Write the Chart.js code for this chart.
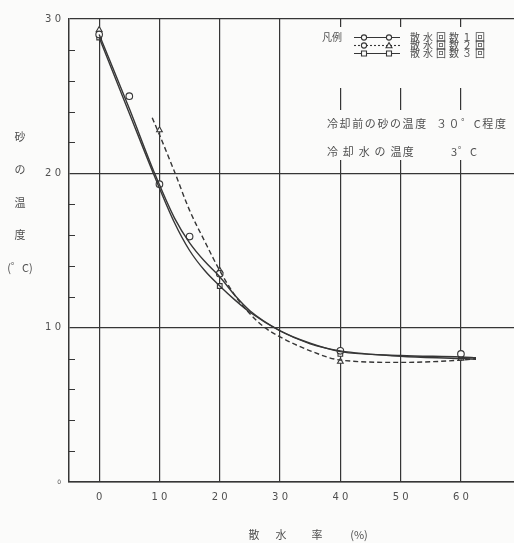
<!DOCTYPE html>
<html><head><meta charset="utf-8">
<script src="https://cdn.jsdelivr.net/npm/chart.js@4/dist/chart.umd.min.js"></script>
<style>html,body{margin:0;padding:0;background:#fbfbfa;}canvas{display:block;}</style>
</head><body>
<canvas id="c" width="514" height="543"></canvas>
<script>
// ---- data ----
const xTickValues = [0, 10, 20, 30, 40, 50, 60];
const xTickLabels = ['0', '1 0', '2 0', '3 0', '4 0', '5 0', '6 0'];
const yTickValues = [0, 2, 4, 6, 8, 10, 12, 14, 16, 18, 20, 22, 24, 26, 28, 30];
const yTickLabels = {0: '0', 10: '1 0', 20: '2 0', 30: '3 0'};

// measured points (markers)
const run1X = [0, 5, 10, 15, 20, 40, 60];
const run1Y = [29.0, 25.0, 19.3, 15.9, 13.5, 8.5, 8.3];
const run2X = [0, 10, 20, 40, 60];
const run2Y = [29.3, 22.8, 13.7, 7.8, 8.0];
const run3X = [0, 20, 40, 60];
const run3Y = [28.8, 12.7, 8.3, 8.2];

// hand-drawn fitted curves
const curve1X = [0, 5, 9.2, 12.5, 15, 17.5, 20, 22.5, 25, 30, 35, 40, 50, 60, 62.5];
const curve1Y = [29.0, 24.2, 20.0, 17.1, 15.5, 14.3, 13.3, 12.1, 11.1, 9.8, 8.95, 8.5, 8.15, 8.0, 7.95];
const curve2X = [8.8, 10, 12.5, 15, 17.5, 20, 22.5, 25, 27.5, 30, 35, 40, 50, 60, 62.5];
const curve2Y = [23.6, 22.5, 20.1, 17.6, 15.6, 13.7, 12.1, 10.9, 10.0, 9.4, 8.5, 7.9, 7.75, 7.9, 8.0];
const curve3X = [0, 5, 9.2, 12.5, 15, 17.5, 20, 22.5, 25, 30, 35, 40, 50, 60, 62.5];
const curve3Y = [28.8, 23.9, 19.8, 16.8, 15.0, 13.7, 12.7, 11.8, 11.0, 9.8, 9.0, 8.45, 8.2, 8.1, 8.05];

const legendLabels = ['散水回数１回', '散水回数２回', '散水回数３回'];
const noteLine1 = '冷却前の砂の温度  ３０゜C程度';
const noteLine2a = '冷 却 水 の 温度';
const noteLine2b = '3゜C';
const yTitleChars = ['砂', 'の', '温', '度', '(゜C)'];
const xTitleParts = ['散', '水', '率', '(%)'];

const pts = (xs, ys) => xs.map((x, i) => ({x: x, y: ys[i]}));
const INK = '#363636';
const TXT = '#505050';
const BG = '#fbfbfa';
const JP = '"Noto Sans CJK JP", "Noto Sans", sans-serif';

const lineDs = (xs, ys, dash) => ({
  type: 'line', data: pts(xs, ys), borderColor: INK, borderWidth: 1.4,
  borderDash: dash, pointRadius: 0, cubicInterpolationMode: 'monotone', fill: false
});
const markDs = (xs, ys, style) => ({
  type: 'scatter', data: pts(xs, ys), showLine: false, pointStyle: style,
  pointRadius: 3.3, borderColor: INK, borderWidth: 1.1, backgroundColor: BG
});

const deco = {
  id: 'deco',
  afterDraw(chart) {
    const ctx = chart.ctx, ca = chart.chartArea, ys = chart.scales.y;
    ctx.save();
    // minor ticks inside left axis
    ctx.strokeStyle = INK; ctx.lineWidth = 1;
    yTickValues.forEach(v => {
      if (v % 10 !== 0) {
        const py = Math.round(ys.getPixelForValue(v)) + 0.5;
        ctx.beginPath(); ctx.moveTo(ca.left, py); ctx.lineTo(ca.left + 6, py); ctx.stroke();
      }
    });
    // legend / note blocks
    ctx.fillStyle = BG;
    ctx.fillRect(300, 27, 214, 61);
    ctx.fillRect(300, 110, 214, 50);
    ctx.fillStyle = TXT;
    ctx.font = '10px ' + JP;
    ctx.textBaseline = 'middle';
    ctx.textAlign = 'left';
    ctx.fillText('凡例', 322, 37);
    const rows = [37, 45, 53];
    const styles = [['circle', 'circle', []], ['circle', 'triangle', [2, 2]], ['rect', 'rect', []]];
    rows.forEach((ry, i) => {
      ctx.strokeStyle = INK; ctx.lineWidth = 1.1;
      ctx.setLineDash(styles[i][2]);
      ctx.beginPath(); ctx.moveTo(354, ry + 0.5); ctx.lineTo(400, ry + 0.5); ctx.stroke();
      ctx.setLineDash([]);
      [[364, styles[i][0]], [389, styles[i][1]]].forEach(([mx, st]) => {
        ctx.fillStyle = BG; ctx.strokeStyle = INK;
        ctx.beginPath();
        if (st === 'circle') ctx.arc(mx, ry + 0.5, 2.6, 0, Math.PI * 2);
        else if (st === 'rect') ctx.rect(mx - 2.5, ry - 2, 5, 5);
        else { ctx.moveTo(mx, ry - 2.5); ctx.lineTo(mx + 3, ry + 2.7); ctx.lineTo(mx - 3, ry + 2.7); ctx.closePath(); }
        ctx.fill(); ctx.stroke();
      });
      ctx.fillStyle = TXT;
      ctx.font = '10px ' + JP;
      ctx.letterSpacing = '3px';
      ctx.fillText(legendLabels[i], 410, ry);
      ctx.letterSpacing = '0px';
    });
    ctx.font = '11px ' + JP;
    ctx.letterSpacing = '1.6px';
    ctx.fillText(noteLine1, 327, 124);
    ctx.letterSpacing = '1.2px';
    ctx.fillText(noteLine2a, 327, 152);
    ctx.letterSpacing = '1px';
    ctx.fillText(noteLine2b, 451, 152);
    ctx.letterSpacing = '0px';
    // y title (stacked)
    ctx.font = '11px ' + JP;
    ctx.textAlign = 'center';
    const yPos = [137, 170, 203, 235, 268];
    yTitleChars.forEach((c, i) => ctx.fillText(c, 20, yPos[i]));
    // x title
    const xPos = [254, 281, 317, 359];
    xTitleParts.forEach((c, i) => ctx.fillText(c, xPos[i], 535));
    ctx.restore();
  }
};

new Chart(document.getElementById('c'), {
  data: {
    datasets: [
      lineDs(curve1X, curve1Y, []),
      lineDs(curve2X, curve2Y, [5, 3]),
      lineDs(curve3X, curve3Y, []),
      markDs(run1X, run1Y, 'circle'),
      markDs(run2X, run2Y, 'triangle'),
      markDs(run3X, run3Y, 'rect')
    ]
  },
  options: {
    responsive: false, animation: false, devicePixelRatio: 1,
    layout: {autoPadding: false, padding: {top: 19, right: 0, left: 0, bottom: 0}},
    plugins: {legend: {display: false}, tooltip: {enabled: false}},
    scales: {
      x: {
        type: 'linear', min: -5, max: 68.8,
        afterFit: s => { s.height = 61; s.paddingRight = 0; s.paddingLeft = 0; },
        afterBuildTicks: s => { s.ticks = xTickValues.map(v => ({value: v})); },
        grid: {color: INK, lineWidth: 1.2, drawTicks: false},
        border: {display: true, color: INK, width: 1.5},
        ticks: {
          padding: 9, color: TXT, font: {family: 'DejaVu Sans', size: 10},
          callback: (v) => xTickLabels[xTickValues.indexOf(v)] ?? ''
        }
      },
      y: {
        type: 'linear', min: 0, max: 30,
        afterFit: s => { s.width = 69; s.paddingTop = 0; s.paddingBottom = 0; },
        afterBuildTicks: s => { s.ticks = yTickValues.map(v => ({value: v})); },
        grid: {
          color: c => (c.tick && c.tick.value % 10 === 0) ? INK : 'rgba(0,0,0,0)',
          lineWidth: 1.2, drawTicks: false
        },
        border: {display: true, color: INK, width: 1.5},
        ticks: {
          padding: 8, color: TXT, autoSkip: false,
          font: c => ({family: 'DejaVu Sans', size: (c.tick && c.tick.value === 0) ? 6 : 10}),
          callback: (v) => yTickLabels[v] ?? ''
        }
      }
    }
  },
  plugins: [deco]
});
</script>
</body></html>
